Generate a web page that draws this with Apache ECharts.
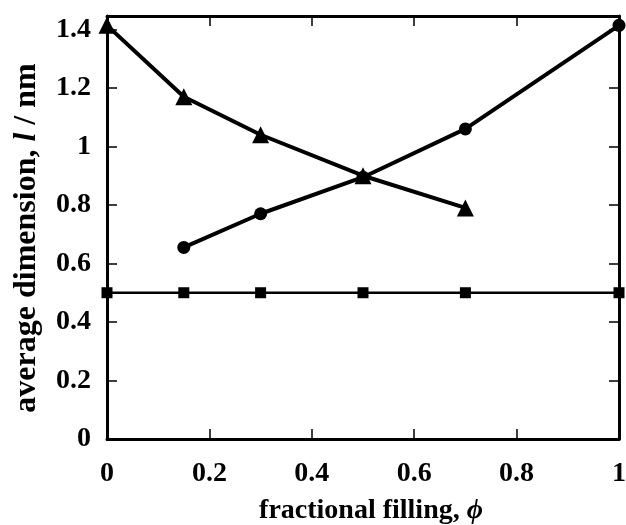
<!DOCTYPE html>
<html><head><meta charset="utf-8">
<script src="https://cdn.jsdelivr.net/npm/echarts@6/dist/echarts.min.js"></script>
<style>html,body{margin:0;padding:0;background:#fff}#c{width:626px;height:525px}</style>
</head><body><div id="c"></div>
<script>
const triX = [0, 0.15, 0.3, 0.5, 0.7];
const triY = [1.414, 1.17, 1.04, 0.9, 0.79];
const cirX = [0.15, 0.3, 0.5, 0.7, 1];
const cirY = [0.655, 0.77, 0.895, 1.06, 1.414];
const sqX = [0, 0.15, 0.3, 0.5, 0.7, 1];
const sqY = [0.5, 0.5, 0.5, 0.5, 0.5, 0.5];
const xTicks = [0, 0.2, 0.4, 0.6, 0.8, 1];
const yTicks = [0, 0.2, 0.4, 0.6, 0.8, 1, 1.2, 1.4];

const pairs = (xs, ys) => xs.map((x, i) => [x, ys[i]]);
const font = 'Liberation Serif';
const axisLine = {show: true, onZero: false, lineStyle: {color: '#000', width: 3}};
const tick = {show: true, inside: true, length: 10, lineStyle: {color: '#000', width: 1.5}};
const lab = {fontFamily: font, fontWeight: 'bold', fontSize: 28, color: '#000'};
const xName = {fontFamily: font, fontWeight: 'bold', fontSize: 28, color: '#000'};
const yName = {fontFamily: font, fontWeight: 'bold', fontSize: 32, color: '#000'};

const chart = echarts.init(document.getElementById('c'));
chart.setOption({
  animation: false,
  grid: {left: 107, right: 7, top: 16, bottom: 86, containLabel: false, outerBoundsMode: 'none'},
  xAxis: [{
    type: 'value', min: 0, max: 1, interval: 0.2, position: 'bottom',
    axisLine, axisTick: tick, splitLine: {show: false},
    axisLabel: Object.assign({margin: 21, customValues: xTicks}, lab),
    name: '{b|fractional filling, }{i|ϕ}', nameLocation: 'middle', nameGap: 58,
    nameTextStyle: {rich: {b: xName, i: Object.assign({}, xName, {fontStyle: 'italic'})}, padding: [0, 0, 0, 16]}
  }, {
    type: 'value', min: 0, max: 1, interval: 0.2, position: 'top',
    axisLine, axisTick: tick, axisLabel: {show: false}, splitLine: {show: false}
  }],
  yAxis: [{
    type: 'value', min: 0, max: 1.446, interval: 0.2, position: 'left',
    axisLine, axisTick: tick, splitLine: {show: false},
    axisLabel: Object.assign({margin: 16, customValues: yTicks}, lab),
    name: '{b|average dimension, }{i|l}{b| / nm}', nameLocation: 'middle', nameGap: 64,
    nameTextStyle: {rich: {b: yName, i: Object.assign({}, yName, {fontStyle: 'italic'})}, padding: [0, 0, 0, -21]}
  }, {
    type: 'value', min: 0, max: 1.446, interval: 0.2, position: 'right',
    axisLine, axisTick: tick, axisLabel: {show: false}, splitLine: {show: false}
  }],
  series: [
    {type: 'line', data: pairs(sqX, sqY), symbol: 'rect', symbolSize: 11,
     lineStyle: {color: '#000', width: 2.5}, itemStyle: {color: '#000'}, z: 3},
    {type: 'line', data: pairs(cirX, cirY), symbol: 'circle', symbolSize: 13,
     lineStyle: {color: '#000', width: 4}, itemStyle: {color: '#000'}, z: 4},
    {type: 'line', data: pairs(triX, triY), symbol: 'triangle', symbolSize: 17,
     lineStyle: {color: '#000', width: 4}, itemStyle: {color: '#000'}, z: 5}
  ]
});
</script></body></html>
